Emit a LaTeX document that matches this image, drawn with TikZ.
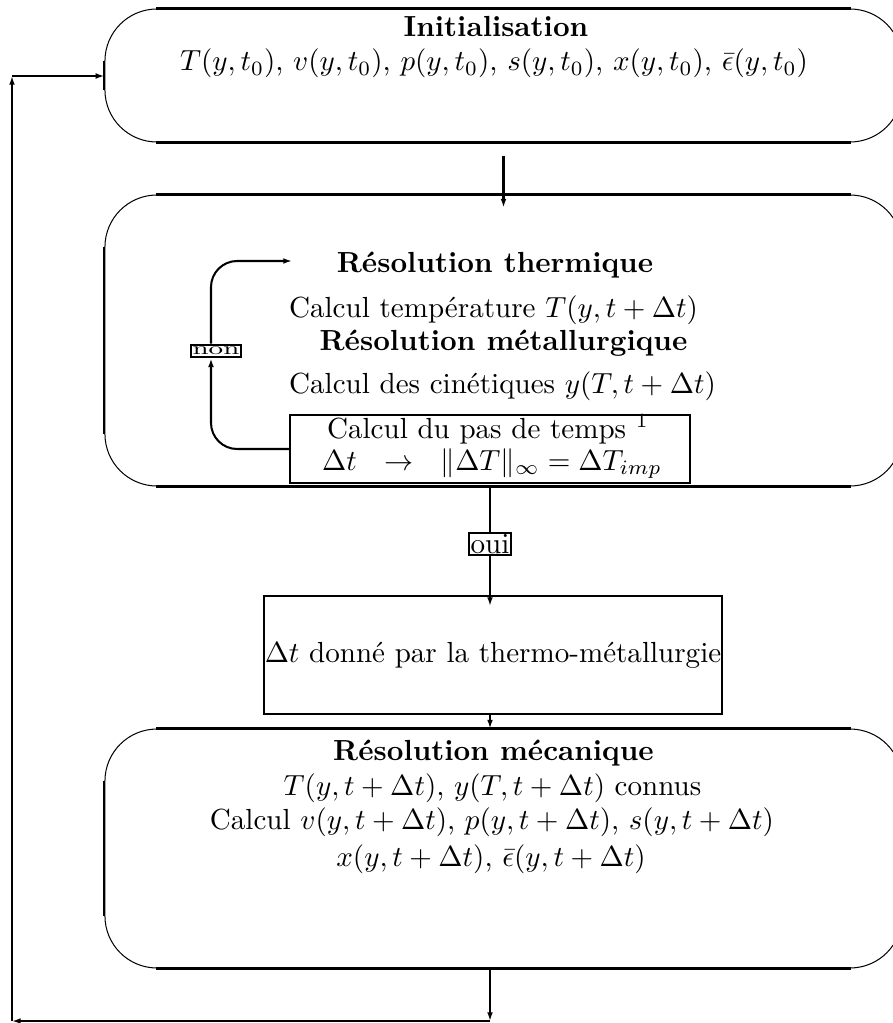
\documentclass[tikz,border=0pt]{standalone}
\usepackage{amsmath,amssymb}
\usepackage{graphicx}
\usetikzlibrary{arrows.meta,calc,positioning}
\tikzset{
  every picture/.style={line width=0.7pt},
  fBlock/.style={draw, line width=0.35pt, rounded corners=17.9pt,
                 minimum width=274.2pt, inner sep=0pt},
  fEdge/.style={line width=1pt},   % thick straight top/bottom edges
  fSide/.style={line width=0.7pt},
  fRect/.style={draw, line width=0.7pt, inner sep=0pt},
  fConn/.style={-{Latex[length=3pt,width=2pt]}},
  fFlag/.style={draw, fill=white, inner xsep=0.5pt, inner ysep=0.5pt},
  fLine/.style={anchor=base, inner sep=0pt},
  fHead/.style={fLine, font=\bfseries},
}

\begin{document}
\begin{tikzpicture}[x=0.344pt, y=-0.344pt]
  \useasboundingbox (0,0) rectangle (892,1023);
  % rounded blocks
  \node[fBlock, minimum height=45.75pt] (init) at (503.5,75.5) {};
  \node[fBlock, minimum height=100.1pt] (thermo) at (503.5,340.5) {};
  \node[fBlock, minimum height=82.2pt] (meca) at (503.5,848.5) {};
  \foreach \b in {init,thermo,meca}{
    \draw[fEdge] ([xshift=17.9pt]\b.north west) -- ([xshift=-17.9pt]\b.north east);
    \draw[fEdge] ([xshift=17.9pt]\b.south west) -- ([xshift=-17.9pt]\b.south east);
    \draw[fSide] ([yshift=-17.9pt]\b.north west) -- ([yshift=17.9pt]\b.south west);
  }

  \node[fHead] (initT) at (496,37) {Initialisation};
  \node[fLine] (initV) at (494,71) {$T(y,t_0)$, $v(y,t_0)$, $p(y,t_0)$, $s(y,t_0)$, $x(y,t_0)$, $\bar\epsilon(y,t_0)$};

  \node[fHead] (thT) at (495,272) {Résolution thermique};
  \node[fLine] (thC) at (493.5,317) {Calcul température $T(y,t+\Delta t)$};
  \node[fHead] (meT) at (503.5,350) {Résolution métallurgique};
  \node[fLine] (meC) at (502.5,393) {Calcul des cinétiques $y(T,t+\Delta t)$};
  \node[fRect, minimum width=137.6pt, minimum height=23.4pt] (pas) at (490,449) {};
  \node[fLine] (pasA) at (488,438) {Calcul du pas de temps $^{1}$};
  \node[fLine] (pasB) at (492,470) {$\Delta t\ \ \rightarrow\ \ \|\Delta T\|_{\infty} = \Delta T_{imp}$};

  \node[fRect, minimum width=157.6pt, minimum height=40.6pt] (dt) at (493,655) {$\Delta t$ donné par la thermo-métallurgie};

  \node[fHead] (mcT) at (493.5,760) {Résolution mécanique};
  \node[fLine] (mcA) at (492.5,795) {$T(y,t+\Delta t)$, $y(T,t+\Delta t)$ connus};
  \node[fLine] (mcB) at (492,829) {Calcul $v(y,t+\Delta t)$, $p(y,t+\Delta t)$, $s(y,t+\Delta t)$};
  \node[fLine] (mcC) at (491,866) {$x(y,t+\Delta t)$, $\bar\epsilon(y,t+\Delta t)$};

  % main chain
  \draw[fConn] ([yshift=-4.5pt]init.south) -- ([yshift=-4.5pt]thermo.north);
  \draw[fConn] (pas.south |- thermo.south) -- ($(pas.south |- dt.north)+(0,11)$)
        node[fFlag, pos=0.48] (oui) {oui};
  \draw[fConn] (pas.south |- dt.south) -- (pas.south |- meca.north);

  % time step loop
  \node[fFlag, line width=0.9pt, inner ysep=0.7pt] (non) at (216,351) {\scalebox{1}[0.6]{non}};
  \coordinate (loopX) at (211,0);
  \coordinate (thIn) at (292,261);
  \draw[fConn, rounded corners=9pt] (pas.west) -| (loopX |- non.south);
  \draw[fConn, rounded corners=9pt] (loopX |- non.north) |- (thIn);

  % return to initialisation
  \coordinate (retR) at (490,1021);
  \coordinate (retL) at (12,1021);
  \coordinate (retT) at (12,76);
  \draw[fConn] (pas.south |- meca.south) -- (retR);
  \draw[fConn] (retR) -- (retL);
  \draw[fConn] (retL) -- (retT);
  \draw[fConn] (retT) -- (retT -| init.west);
\end{tikzpicture}
\end{document}
